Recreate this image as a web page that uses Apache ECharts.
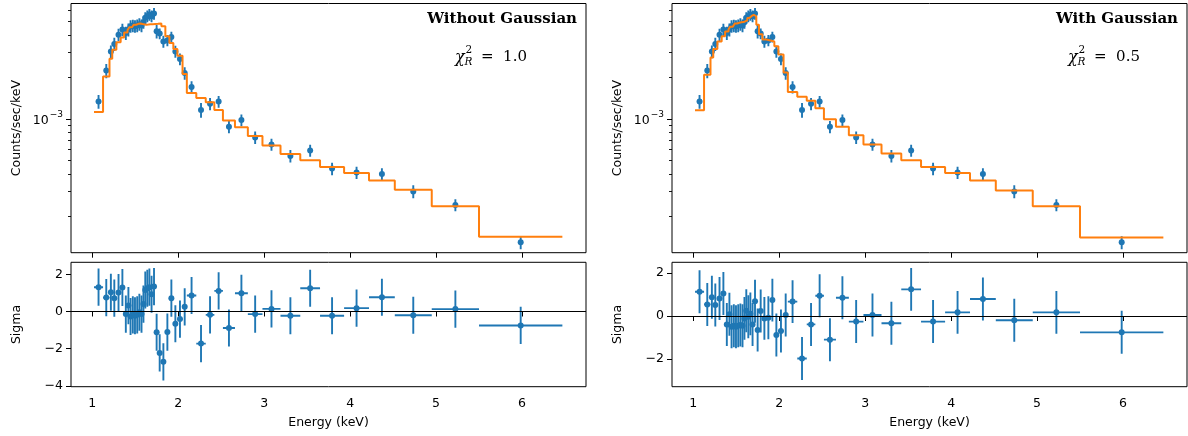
<!DOCTYPE html>
<html>
<head>
<meta charset="utf-8">
<script src="https://cdn.jsdelivr.net/npm/echarts@6/dist/echarts.min.js"></script>
<style>
html,body{margin:0;padding:0;background:#fff;}
#chart{width:1188px;height:436px;}
</style>
</head>
<body>
<div id="chart"></div>
<script>
// ---------------- data ----------------
// Energy bin edges (keV), 44 bins
const binEdges = [1.02, 1.125, 1.20, 1.232, 1.28, 1.33, 1.37, 1.41, 1.43, 1.46,
  1.483, 1.51, 1.535, 1.56, 1.585, 1.605, 1.628, 1.652, 1.676, 1.703,
  1.733, 1.764, 1.804, 1.85, 1.897, 1.943, 1.99, 2.05, 2.10, 2.21,
  2.32, 2.42, 2.52, 2.66, 2.81, 2.98, 3.19, 3.42, 3.65, 3.93,
  4.22, 4.52, 4.95, 5.50, 6.47];
// Observed spectrum, units of 1e-3 counts/sec/keV
const FLUX_UNIT = 1e-3;
const flux = [1.33, 2.22, 3.05, 3.45, 4.03, 4.38, 4.14, 4.38, 4.63, 4.68,
  4.63, 4.68, 4.79, 4.68, 4.94, 5.32, 5.47, 5.62, 5.47, 5.71,
  4.26, 4.10, 3.60, 3.66, 3.88, 3.05, 2.69, 2.13, 1.69, 1.156,
  1.28, 1.33, 0.875, 0.978, 0.734, 0.653, 0.540, 0.591, 0.438, 0.410,
  0.400, 0.300, 0.240, 0.129];
const fluxErr = [0.15, 0.26, 0.32, 0.38, 0.42, 0.45, 0.45, 0.47, 0.48, 0.48,
  0.48, 0.49, 0.50, 0.49, 0.50, 0.52, 0.53, 0.54, 0.53, 0.55,
  0.48, 0.36, 0.36, 0.34, 0.34, 0.30, 0.26, 0.22, 0.17, 0.14,
  0.13, 0.13, 0.09, 0.095, 0.075, 0.065, 0.055, 0.058, 0.045, 0.042,
  0.040, 0.032, 0.024, 0.014];
// Model without Gaussian
const modelNoGauss = [1.12, 2.01, 2.70, 3.14, 3.55, 3.85, 4.18, 4.35, 4.55, 4.65,
  4.75, 4.82, 4.85, 4.80, 4.76, 4.75, 4.76, 4.78, 4.78, 4.80,
  4.82, 4.85, 4.63, 3.92, 3.51, 3.18, 2.84, 2.10, 1.53, 1.41,
  1.313, 1.156, 0.973, 0.867, 0.750, 0.641, 0.558, 0.503, 0.450, 0.407,
  0.360, 0.308, 0.235, 0.1418];
// Model with Gaussian
const modelGauss = [1.15, 2.07, 2.76, 3.18, 3.60, 3.92, 4.25, 4.40, 4.60, 4.75,
  4.85, 4.90, 4.95, 4.96, 5.00, 5.10, 5.30, 5.47, 5.60, 5.45,
  4.75, 4.05, 3.72, 3.66, 3.60, 3.32, 2.90, 2.15, 1.56, 1.44,
  1.35, 1.19, 0.99, 0.875, 0.762, 0.653, 0.562, 0.503, 0.450, 0.407,
  0.360, 0.305, 0.235, 0.140];
// Residuals (sigma), error bars are +-1 sigma
const residNoGauss = [1.31, 0.75, 1.04, 0.72, 1.02, 1.29, -0.14, 0.32, -0.27, -0.18,
  -0.23, -0.18, -0.04, -0.14, 0.40, 1.16, 1.25, 1.31, 0.93, 1.34,
  -1.12, -2.23, -2.71, -1.11, 0.72, -0.66, -0.41, 0.25, 0.86, -1.73,
  -0.18, 1.11, -0.89, 0.98, -0.14, 0.14, -0.23, 1.25, -0.23, 0.18,
  0.77, -0.20, 0.13, -0.75];
const residGauss = [1.13, 0.54, 0.87, 0.51, 0.82, 1.05, -0.39, 0.08, -0.50, -0.45,
  -0.50, -0.45, -0.42, -0.45, -0.11, 0.25, -0.03, 0.10, -0.39, 0.69,
  -0.65, 0.23, -0.11, -0.08, 0.74, -0.88, -0.70, 0.05, 0.67, -1.98,
  -0.39, 0.94, -1.10, 0.85, -0.26, 0.05, -0.34, 1.24, -0.26, 0.17,
  0.79, -0.20, 0.17, -0.76];
const RESID_ERR = 1;
const xTicks = [1, 2, 3, 4, 5, 6];
const logMajorTicks = [1e-3];
const logMinorTicks = [2e-4, 3e-4, 4e-4, 5e-4, 6e-4, 7e-4, 8e-4, 9e-4, 2e-3, 3e-3, 4e-3, 5e-3, 6e-3];
const residTicksL = [-4, -2, 0, 2];
const residTicksR = [-2, 0, 2];
const panelTitles = ['Without Gaussian', 'With Gaussian'];
const chiValues = ['1.0', '0.5'];

// ---------------- styling / layout ----------------
const BLUE = '#1f77b4', ORANGE = '#ff7f0e';
const FONT = 'DejaVu Sans', FS = 12.5;
const X_MIN = 0.752, X_MAX = 6.745;
const Y_MIN = 1.087e-4, Y_MAX = 6.75e-3;
const panels = [
  {left: 71, rmin: -4.05, rmax: 2.65, rticks: residTicksL, model: modelNoGauss, resid: residNoGauss},
  {left: 672, rmin: -3.29, rmax: 2.50, rticks: residTicksR, model: modelGauss, resid: residGauss}
];
const W = 515, TOP1 = 3.5, H1 = 249.2, TOP2 = 262.3, H2 = 124.4;

const lo = binEdges.slice(0, -1), hi = binEdges.slice(1);
const centers = lo.map((v, i) => (v + hi[i]) / 2);

function minus(v) { return v < 0 ? '\u2212' + (-v) : String(v); }

function errRender(withX) {
  return function (params, api) {
    const x = api.value(0), y = api.value(1);
    const c = api.coord([x, y]);
    const t = api.coord([x, api.value(3)]);
    const b = api.coord([x, api.value(2)]);
    const ch = [{type: 'line', shape: {x1: c[0], y1: t[1], x2: c[0], y2: b[1]}, style: {stroke: BLUE, lineWidth: 1.9}}];
    if (withX) {
      const l = api.coord([api.value(4), y]), r = api.coord([api.value(5), y]);
      ch.push({type: 'line', shape: {x1: l[0], y1: c[1], x2: r[0], y2: c[1]}, style: {stroke: BLUE, lineWidth: 1.9}});
    }
    ch.push({type: 'circle', shape: {cx: c[0], cy: c[1], r: 3}, style: {fill: BLUE}});
    return {type: 'group', children: ch};
  };
}

const grid = [], xAxis = [], yAxis = [], series = [], graphic = [];
const txt = {color: '#000', fontFamily: FONT, fontSize: FS};

panels.forEach((p, k) => {
  const gTop = grid.length;
  grid.push({left: p.left, top: TOP1, width: W, height: H1, show: true, borderColor: '#000', borderWidth: 1, backgroundColor: 'transparent'});
  grid.push({left: p.left, top: TOP2, width: W, height: H2, show: true, borderColor: '#000', borderWidth: 1, backgroundColor: 'transparent'});
  const baseX = {type: 'value', min: X_MIN, max: X_MAX, splitLine: {show: false}, axisLine: {show: false},
    axisTick: {show: true, length: 5, customValues: xTicks, lineStyle: {color: '#000', width: 1}}};
  const xi = xAxis.length;
  xAxis.push(Object.assign({}, baseX, {gridIndex: gTop, axisLabel: {show: false, customValues: xTicks}}));
  xAxis.push(Object.assign({}, baseX, {gridIndex: gTop + 1,
    axisLabel: Object.assign({customValues: xTicks, margin: 11}, txt),
    name: 'Energy (keV)', nameLocation: 'middle', nameGap: 30, nameTextStyle: txt}));
  const yi = yAxis.length;
  yAxis.push({type: 'log', gridIndex: gTop, min: Y_MIN, max: Y_MAX, position: 'left',
    splitLine: {show: false}, axisLine: {show: false},
    axisTick: {show: true, length: 5, customValues: logMajorTicks, lineStyle: {color: '#000', width: 1}},
    axisLabel: {customValues: logMajorTicks, margin: 8, formatter: () => '{b|10}{s|\u22123}',
      rich: {b: {fontFamily: FONT, fontSize: FS, color: '#000', verticalAlign: 'bottom', lineHeight: 17},
             s: {fontFamily: FONT, fontSize: 9, color: '#000', verticalAlign: 'top', lineHeight: 17, padding: [0, 0, 0, 1]}}},
    name: 'Counts/sec/keV', nameLocation: 'middle', nameGap: 48, nameTextStyle: txt});
  yAxis.push({type: 'log', gridIndex: gTop, min: Y_MIN, max: Y_MAX, position: 'left',
    splitLine: {show: false}, axisLine: {show: false}, axisLabel: {show: false},
    axisTick: {show: true, length: 3, customValues: logMinorTicks, lineStyle: {color: '#000', width: 0.9}}});
  yAxis.push({type: 'value', gridIndex: gTop + 1, min: p.rmin, max: p.rmax, position: 'left',
    splitLine: {show: false}, axisLine: {show: false},
    axisTick: {show: true, length: 5, customValues: p.rticks, lineStyle: {color: '#000', width: 1}},
    axisLabel: Object.assign({customValues: p.rticks, margin: 8, formatter: minus}, txt),
    name: 'Sigma', nameLocation: 'middle', nameGap: 48, nameTextStyle: txt});

  // observed spectrum
  series.push({type: 'custom', xAxisIndex: xi, yAxisIndex: yi, renderItem: errRender(false), z: 2, clip: true,
    encode: {x: 0, y: 1},
    data: centers.map((c, i) => [c, flux[i] * FLUX_UNIT, (flux[i] - fluxErr[i]) * FLUX_UNIT, (flux[i] + fluxErr[i]) * FLUX_UNIT])});
  // model step line
  const stepData = lo.map((l, i) => [l, p.model[i] * FLUX_UNIT]);
  stepData.push([hi[hi.length - 1], p.model[p.model.length - 1] * FLUX_UNIT]);
  series.push({type: 'line', xAxisIndex: xi, yAxisIndex: yi, step: 'end', showSymbol: false, symbol: 'none', z: 3,
    lineStyle: {color: ORANGE, width: 2}, data: stepData, silent: true});
  // residuals
  series.push({type: 'custom', xAxisIndex: xi + 1, yAxisIndex: yi + 2, renderItem: errRender(true), z: 2, clip: true,
    encode: {x: 0, y: 1},
    data: centers.map((c, i) => [c, p.resid[i], p.resid[i] - RESID_ERR, p.resid[i] + RESID_ERR, lo[i], hi[i]]),
    markLine: {silent: true, symbol: 'none', label: {show: false}, z: 5,
      lineStyle: {color: '#000', width: 1.2, type: 'solid'}, data: [{yAxis: 0}]}});

  // annotations
  const right = p.left + W;
  graphic.push({type: 'text', x: right - 9, y: 19, style: {text: panelTitles[k], font: 'bold 15px "DejaVu Serif"', fill: '#000', align: 'right', verticalAlign: 'middle'}});
  const cx = right - 131 + (k === 1 ? 12 : 0);
  graphic.push({type: 'text', x: cx, y: 58, style: {text: '\u03c7', font: 'italic 16px "DejaVu Serif"', fill: '#000', align: 'left', verticalAlign: 'middle'}});
  graphic.push({type: 'text', x: cx + 10.5, y: 50.5, style: {text: '2', font: '10.5px "DejaVu Serif"', fill: '#000', align: 'left', verticalAlign: 'middle'}});
  graphic.push({type: 'text', x: cx + 9.5, y: 62, style: {text: 'R', font: 'italic 10.5px "DejaVu Serif"', fill: '#000', align: 'left', verticalAlign: 'middle'}});
  graphic.push({type: 'text', x: cx + 26, y: 57, style: {text: '=  ' + chiValues[k], font: '15px "DejaVu Serif"', fill: '#000', align: 'left', verticalAlign: 'middle'}});
});

const chart = echarts.init(document.getElementById('chart'), null, {renderer: 'canvas'});
chart.setOption({animation: false, backgroundColor: '#fff', grid, xAxis, yAxis, series, graphic});
</script>
</body>
</html>
